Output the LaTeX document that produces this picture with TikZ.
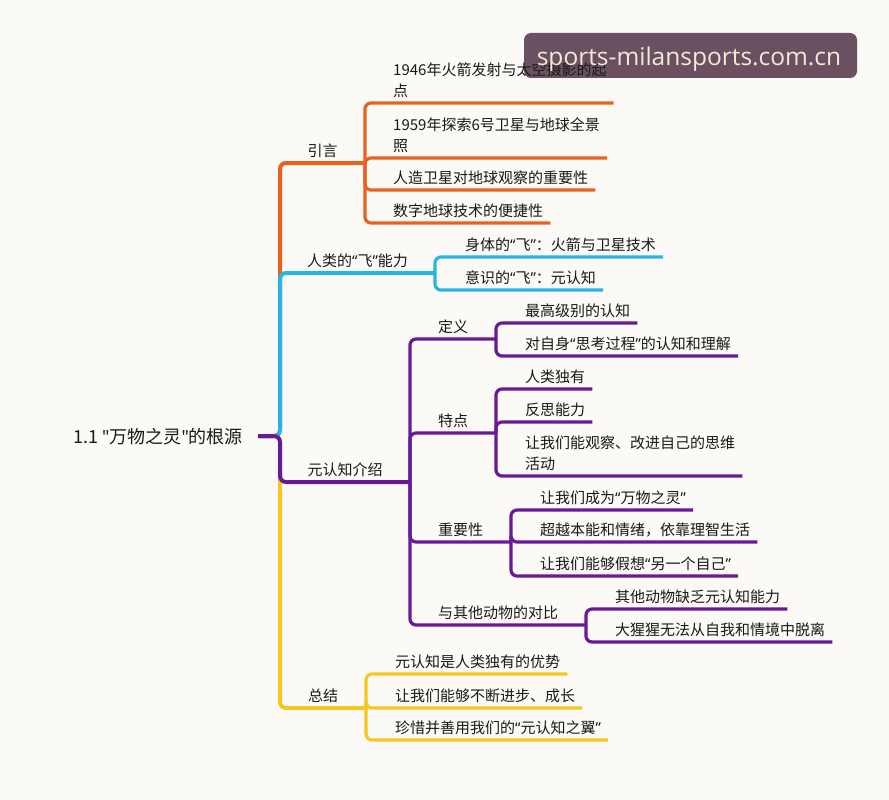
\documentclass[tikz,border=0pt]{standalone}
\usepackage{fontspec}
\setmainfont{Noto Sans CJK SC}
\newfontfamily\latinq{Noto Sans}
\newfontfamily\wmfont{Open Sans}
\newcommand\lquo{{\latinq “}}
\newcommand\rquo{{\latinq ”}}
\newcommand\squo{{\latinq\char"0022}}
\usetikzlibrary{calc}
\definecolor{paper}{RGB}{251,250,246}
\definecolor{brOrange}{RGB}{232,98,30}
\definecolor{brBlue}{RGB}{40,180,228}
\definecolor{brPurple}{RGB}{104,26,150}
\definecolor{brYellow}{RGB}{244,200,30}
\definecolor{wmBox}{RGB}{107,80,98}
\definecolor{wmText}{RGB}{242,234,216}
\begin{document}
\begin{tikzpicture}[x=1pt, y=-1pt,
  every node/.style = {font=\fontsize{15}{21}\selectfont, text=black!90,
    inner xsep=0pt, inner ysep=5pt, align=left},
  leaf/.style = {anchor=south west},
  topic/.style = {anchor=south},
  trunk/.style = {line width=4pt, rounded corners=6pt},
  twig/.style = {line width=3.2pt, rounded corners=6pt},
  wmark/.style = {font=\wmfont\fontsize{24.5}{25}\selectfont, text=wmText}]
  \fill[paper] (0,0) rectangle (889,800);
  \useasboundingbox (0,0) rectangle (889,800);
  \fill[wmBox, rounded corners=7pt] (524,33) rectangle (857,78);

  % root and junctions
  \node[anchor=west, font=\fontsize{18}{20}\selectfont] (root) at (73,437) {1.1 \squo 万物之灵\squo 的根源};
  \coordinate (stub) at (258,436);
  \coordinate (hub) at (280,436);
  \coordinate (j-yinyan) at (365,163);
  \coordinate (j-feixing) at (435,273);
  \coordinate (j-yuan) at (410,482);
  \coordinate (j-zongjie) at (366,708);
  \coordinate (j-dingyi) at (496,339);
  \coordinate (j-tedian) at (496,433);
  \coordinate (j-zhongyao) at (511,542);
  \coordinate (j-duibi) at (586,625);

  % main branches
  \draw[trunk, brOrange] (stub) -- (hub) |- (j-yinyan);
  \draw[trunk, brBlue] (stub) -- (hub) |- (j-feixing);
  \draw[trunk, brYellow] (stub) -- (hub) |- (j-zongjie);
  \draw[trunk, brPurple] (stub) -- (hub) |- (j-yuan);
  \node[topic] (yinyan) at ($(hub |- j-yinyan)!0.5!(j-yinyan)$) {引言};
  \node[topic] (feixing) at ($(hub |- j-feixing)!0.5!(j-feixing)$) {人类的\lquo 飞\rquo 能力};
  \node[topic] (yuan) at ($(hub |- j-yuan)!0.5!(j-yuan)$) {元认知介绍};
  \node[topic] (zongjie) at ($(hub |- j-zongjie)!0.5!(j-zongjie)$) {总结};

  % 引言
  \node[leaf] (l1946) at (393,103) {1946年火箭发射与太空摄影的起\\点};
  \node[leaf] (l1959) at (393,158) {1959年探索6号卫星与地球全景\\照};
  \node[leaf] (renzao) at (393,190) {人造卫星对地球观察的重要性};
  \node[leaf] (shuzi) at (393,223) {数字地球技术的便捷性};
  \foreach \c in {l1946,l1959,renzao,shuzi}
    \draw[twig, brOrange] (j-yinyan) |- ([xshift=7pt]\c.south east);

  % 飞
  \node[leaf] (shenti) at (465,257) {身体的\lquo 飞\rquo ：火箭与卫星技术};
  \node[leaf] (yishi) at (465,290) {意识的\lquo 飞\rquo ：元认知};
  \foreach \c in {shenti,yishi}
    \draw[twig, brBlue] (j-feixing) |- ([xshift=7pt]\c.south east);

  % 元认知介绍
  \foreach \j in {j-dingyi,j-tedian,j-zhongyao,j-duibi}
    \draw[twig, brPurple] (j-yuan) |- (\j);
  \node[topic] (dingyi) at ($(j-yuan |- j-dingyi)!0.5!(j-dingyi)$) {定义};
  \node[topic] (tedian) at ($(j-yuan |- j-tedian)!0.5!(j-tedian)$) {特点};
  \node[topic] (zhongyao) at ($(j-yuan |- j-zhongyao)!0.5!(j-zhongyao)$) {重要性};
  \node[topic] (duibi) at ($(j-yuan |- j-duibi)!0.5!(j-duibi)$) {与其他动物的对比};

  \node[leaf] (zuigao) at (525,323) {最高级别的认知};
  \node[leaf] (zishen) at (525,356) {对自身\lquo 思考过程\rquo 的认知和理解};
  \foreach \c in {zuigao,zishen}
    \draw[twig, brPurple] (j-dingyi) |- ([xshift=7pt]\c.south east);

  \node[leaf] (duyou) at (525,389) {人类独有};
  \node[leaf] (fansi) at (525,422) {反思能力};
  \node[leaf] (guancha) at (525,476) {让我们能观察、改进自己的思维\\活动};
  \foreach \c in {duyou,fansi,guancha}
    \draw[twig, brPurple] (j-tedian) |- ([xshift=7pt]\c.south east);

  \node[leaf] (wanwu) at (540,510) {让我们成为\lquo 万物之灵\rquo};
  \node[leaf] (chaoyue) at (540,542) {超越本能和情绪，依靠理智生活};
  \node[leaf] (jiaxiang) at (540,576) {让我们能够假想\lquo 另一个自己\rquo};
  \foreach \c in {wanwu,chaoyue,jiaxiang}
    \draw[twig, brPurple] (j-zhongyao) |- ([xshift=7pt]\c.south east);

  \node[leaf] (quefa) at (615,609) {其他动物缺乏元认知能力};
  \node[leaf] (xingxing) at (615,642) {大猩猩无法从自我和情境中脱离};
  \foreach \c in {quefa,xingxing}
    \draw[twig, brPurple] (j-duibi) |- ([xshift=7pt]\c.south east);

  % 总结
  \node[leaf] (youshi) at (395,674) {元认知是人类独有的优势};
  \node[leaf] (jinbu) at (395,708) {让我们能够不断进步、成长};
  \node[leaf] (zhenxi) at (395,740) {珍惜并善用我们的\lquo 元认知之翼\rquo};
  \foreach \c in {youshi,jinbu,zhenxi}
    \draw[twig, brYellow] (j-zongjie) |- ([xshift=7pt]\c.south east);

  \node[wmark] (wm) at (689,59) {sports-milansports.com.cn};
\end{tikzpicture}
\end{document}
